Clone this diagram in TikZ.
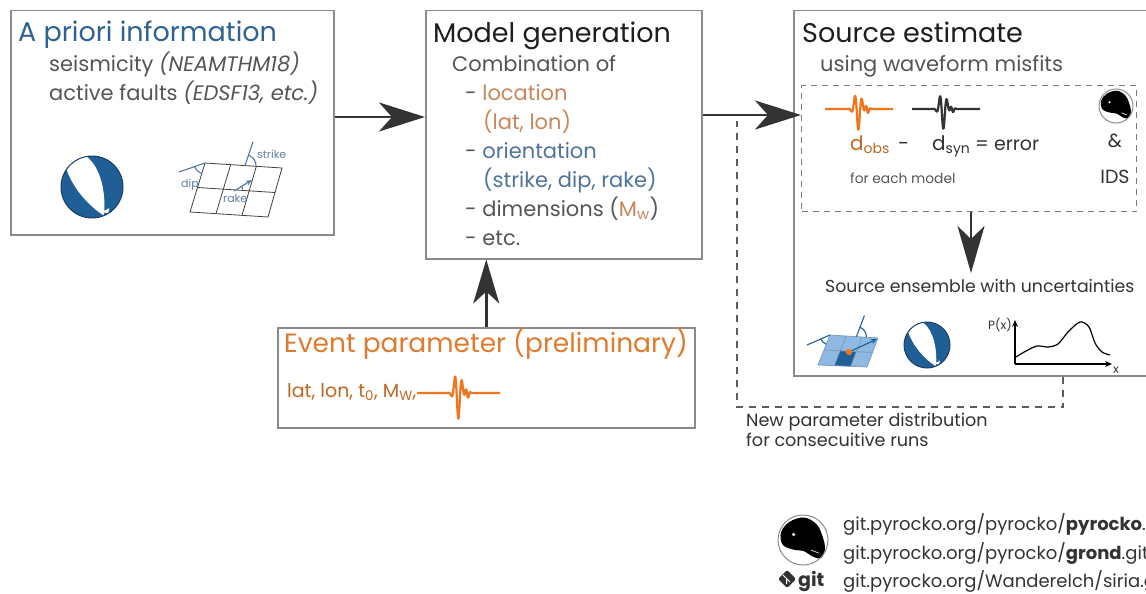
\documentclass[tikz,border=0pt]{standalone}
\usepackage{fontspec}
\setmainfont{Poppins}
\usetikzlibrary{arrows.meta,calc}

\definecolor{tblue}{HTML}{2F6290}
\definecolor{bodygray}{HTML}{555555}
\definecolor{headdark}{HTML}{1E1E1E}
\definecolor{boxgray}{HTML}{8A8A8A}
\definecolor{arrowdark}{HTML}{333333}
\definecolor{locbrown}{HTML}{C8865A}
\definecolor{oriblue}{HTML}{4F7499}
\definecolor{evorange}{HTML}{E07A2C}
\definecolor{wforange}{HTML}{F0761E}
\definecolor{bbblue}{HTML}{1F5F96}
\definecolor{bbedge}{HTML}{1A3F66}
\definecolor{lightfault}{HTML}{8DB9E2}
\definecolor{faultblue}{HTML}{5D7FA3}

\tikzset{
  panel/.style={draw=boxgray, line width=1.5pt, fill=white, inner sep=0pt, anchor=north west},
  dashbox/.style={draw=boxgray!90!black, line width=1.4pt, dash pattern=on 6pt off 5pt, inner sep=0pt, anchor=north west},
  fbline/.style={draw=arrowdark!80, line width=1.3pt, dash pattern=on 7pt off 6pt},
  bigarrow/.style={draw=arrowdark, line width=2.6pt, -{Stealth[length=46pt,width=29pt,inset=13pt]}},
  txt/.style={inner sep=0pt, anchor=base west, font=\fontsize{21}{24}\selectfont, text=bodygray},
  ttl/.style={inner sep=0pt, anchor=base west, font=\fontsize{27}{32}\selectfont},
  tiny/.style={inner sep=0pt, font=\fontsize{11}{13}\selectfont, text=faultblue},
  wfline/.style={line width=2.2pt, line join=round},
  gridline/.style={draw=black!75, line width=0.8pt},
  angline/.style={draw=tblue!85, line width=1.1pt},
  beachball/.pic={
    \fill[bbblue] (0,0) circle[radius=1];
    \fill[white] (-0.17,-0.98) .. controls (0.3,-0.6) and (0.45,0.2) .. (0.39,0.92)
       .. controls (0.0,0.7) and (-0.6,0.1) .. (-0.82,-0.57)
       arc[start angle=-145, end angle=-100, radius=1] -- cycle;
    \fill[white] (0.34,0.8) -- (0.56,0.68) -- (0.52,0.86) -- cycle;
    \draw[bbedge, line width=1pt] (0,0) circle[radius=1];
  },
  pigicon/.pic={
    \fill[white] (0,0) circle[radius=1];
    \fill[black] plot[smooth cycle, tension=0.6] coordinates {(-0.88,-0.3) (-0.55,-0.72) (0.05,-0.9) (0.55,-0.62) (0.78,-0.15) (0.88,0.35) (0.72,0.72) (0.38,0.66) (0.05,0.45) (-0.4,0.38) (-0.82,0.18)};
    \fill[white] (-0.38,-0.22) circle[radius=0.07];
    \draw[white, line width=0.6pt] (0.32,0.4) -- (0.62,0.52);
    \draw[black!45, line width=1pt] (0,0) circle[radius=1];
  }
}

\begin{document}
\begin{tikzpicture}[x=1pt,y=-1pt]
\useasboundingbox (0,0) rectangle (1146,594);
\clip (0,0) rectangle (1146,594);
\fill[white] (0,0) rectangle (1146,594);

% ---------- boxes ----------
\node[panel, minimum width=323pt, minimum height=224pt] (apriori) at (10,10) {};
\node[panel, minimum width=276pt, minimum height=248pt] (model) at (425,10) {};
\node[panel, minimum width=400pt, minimum height=365pt] (source) at (793,10) {};
\node[panel, minimum width=417pt, minimum height=100pt] (event) at (277,327) {};
\node[dashbox, minimum width=335pt, minimum height=126pt] (misfit) at (801,85) {};

% ---------- a priori information ----------
\node[ttl, text=tblue] (aptitle) at (18,42) {A priori information};
\node[txt] (apseis) at (49,72) {seismicity \textit{(NEAMTHM18)}};
\node[txt] (apfault) at (49,100) {active faults \textit{(EDSF13, etc.)}};
\pic[scale=31] at (92,187) {beachball={}};

% fault plane sketch
\coordinate (f1) at (205,163);
\coordinate (f2) at (282,168);
\coordinate (f3) at (268,217);
\coordinate (f4) at (190,212);
\draw[gridline] (f1) -- (f2) -- (f3) -- (f4) -- cycle;
\draw[gridline] ($(f1)!1/3!(f2)$) -- ($(f4)!1/3!(f3)$);
\draw[gridline] ($(f1)!2/3!(f2)$) -- ($(f4)!2/3!(f3)$);
\draw[gridline] ($(f1)!.5!(f4)$) -- ($(f2)!.5!(f3)$);
\coordinate (fs) at ($(f1)!.52!(f2)$);
\draw[angline] (fs) -- ++(8,-24);
\draw[angline] ($(fs)+(-71.6:11)$) arc[start angle=-71.6, end angle=3.7, radius=11];
\draw[angline] (f1) -- ++(-26,9);
\draw[angline] ($(f1)+(107:11)$) arc[start angle=107, end angle=161, radius=11];
\draw[angline, -{Stealth[length=6pt,width=5pt]}] (234,191) -- (252,180);
\draw[angline] (234,191) ++(-10:9) arc[start angle=-10, end angle=-35, radius=9];
\node[tiny, anchor=base west] (lstrike) at (257,158) {strike};
\node[tiny, anchor=base west] (ldip) at (181,187) {dip};
\node[tiny, anchor=base west] (lrake) at (223,202) {rake};

% ---------- model generation ----------
\node[ttl, text=headdark] (mgtitle) at (433,43) {Model generation};
\node[txt] (mg1) at (452,72) {Combination of};
\node[txt] (mg2) at (465,100) {- \textcolor{locbrown}{location}};
\node[txt, text=locbrown] (mg3) at (483,129) {(lat, lon)};
\node[txt] (mg4) at (465,158) {- \textcolor{oriblue}{orientation}};
\node[txt, text=oriblue] (mg5) at (483,187) {(strike, dip, rake)};
\node[txt] (mg6) at (465,216) {- dimensions (\textcolor{locbrown}{M\textsubscript{w}})};
\node[txt] (mg7) at (465,245) {- etc.};

% ---------- source estimate ----------
\node[ttl, text=headdark] (setitle) at (802,43) {Source estimate};
\node[txt] (sesub) at (820,72) {using waveform misfits};
\draw[wfline, wforange] plot[domain=-33:35, samples=160] ({858+\x}, {109 + 21*exp(-(\x/4.5)^2)*sin(\x*50+70) + 5*exp(-((\x-9)/2.5)^2)*sin((\x-9)*70)});
\draw[wfline, arrowdark] plot[domain=-31:37, samples=160] ({943+\x}, {109 + 20*exp(-(\x/4.5)^2)*sin(\x*50+70) + 4*exp(-((\x-9)/2.5)^2)*sin((\x-9)*70)});
\node[txt, text=evorange!85!black, font=\fontsize{20}{23}\selectfont] (dobs) at (850,150) {d\textsubscript{obs}};
\node[txt, text=arrowdark, font=\fontsize{20}{23}\selectfont] (dminus) at (898,150) {-};
\node[txt, text=arrowdark, font=\fontsize{20}{23}\selectfont] (dsyn) at (932,150) {d\textsubscript{syn}};
\node[txt, text=arrowdark, font=\fontsize{19}{23}\selectfont] (derr) at (975,150) {= error};
\node[txt, font=\fontsize{13.8}{16}\selectfont] (each) at (850,183) {for each model};
\pic[scale=17] at (1116,106) {pigicon={}};
\node[txt, anchor=base, text=arrowdark, font=\fontsize{19}{23}\selectfont] (amp) at (1115,147) {\&};
\node[txt, anchor=base, text=arrowdark, font=\fontsize{19}{23}\selectfont] (ids) at (1115,183) {IDS};
\node[txt, text=arrowdark, font=\fontsize{17.3}{20}\selectfont] (ens) at (825,292) {Source ensemble with uncertainties};
\draw[bigarrow, -{Stealth[length=47pt,width=27pt,inset=13pt]}] (misfit.south -| 971,0) -- (971,273);

% ensemble: fault plane with slip patch
\coordinate (g1) at (830,335);
\coordinate (g2) at (878,338);
\coordinate (g3) at (867,367);
\coordinate (g4) at (818,365);
\coordinate (gml) at ($(g1)!.5!(g4)$);
\coordinate (gmr) at ($(g2)!.5!(g3)$);
\fill[lightfault] (g1) -- (g2) -- (g3) -- (g4) -- cycle;
\fill[bbblue] ($(gml)!1/3!(gmr)$) -- ($(gml)!2/3!(gmr)$) -- ($(g4)!2/3!(g3)$) -- ($(g4)!1/3!(g3)$) -- cycle;
\draw[draw=faultblue!80, line width=0.7pt] (g1) -- (g2) -- (g3) -- (g4) -- cycle;
\draw[draw=faultblue!80, line width=0.7pt] ($(g1)!1/3!(g2)$) -- ($(g4)!1/3!(g3)$);
\draw[draw=faultblue!80, line width=0.7pt] ($(g1)!2/3!(g2)$) -- ($(g4)!2/3!(g3)$);
\draw[draw=faultblue!80, line width=0.7pt] (gml) -- (gmr);
\coordinate (gs) at ($(g1)!.55!(g2)$);
\draw[angline, bbblue] (gs) -- ++(8,-21);
\draw[angline, bbblue] ($(gs)+(-69:10)$) arc[start angle=-69, end angle=4, radius=10];
\draw[angline, bbblue] (g1) -- ++(-23,10);
\draw[angline, bbblue] ($(g1)+(112:10)$) arc[start angle=112, end angle=157, radius=10];
\draw[angline, bbblue, -{Stealth[length=6pt,width=5pt]}] (849,352) -- (877,339);
\fill[wforange] (849,352) circle[radius=3.2];
\pic[scale=23] at (927,345) {beachball={}};

% ensemble: probability density
\coordinate (po) at (1015,364);
\draw[line width=1.1pt, -{Stealth[length=7pt,width=6pt]}] (po) -- (1015,320);
\draw[line width=1.1pt, -{Stealth[length=7pt,width=6pt]}] (po) -- (1112,364);
\node[tiny, text=arrowdark, anchor=base east, font=\fontsize{12}{14}\selectfont] (lpx) at (1012,329) {P(x)};
\node[tiny, text=arrowdark, anchor=base west, font=\fontsize{12}{14}\selectfont] (lx) at (1113,373) {x};
\draw[line width=1.2pt] plot[smooth] coordinates {(1016,357) (1026,351) (1037,346) (1048,347) (1058,344) (1068,332) (1080,322) (1089,327) (1095,343) (1102,352) (1110,355)};

% feedback loop
\draw[fbline] (source.south -| 1063,0) -- (1063,407) -- (737,407) -- (737,121);
\node[txt, text=arrowdark, font=\fontsize{17.6}{20}\selectfont] (fb1) at (746,426) {New parameter distribution};
\node[txt, text=arrowdark, font=\fontsize{17.6}{20}\selectfont] (fb2) at (746,446) {for consecuitive runs};

% ---------- event parameter ----------
\node[ttl, text=evorange, font=\fontsize{26.5}{30}\selectfont] (evtitle) at (284,352) {Event parameter (preliminary)};
\node[txt, text=evorange!85!black, font=\fontsize{19}{22}\selectfont] (evpar) at (287,397) {lat, lon, t\textsubscript{0}, M\textsubscript{W},};
\draw[wfline, wforange] plot[domain=-41:42, samples=180] ({458+\x}, {393 + 26*exp(-(\x/4.5)^2)*sin(\x*50+70) + 6*exp(-((\x-9)/2.5)^2)*sin((\x-9)*70)});

% ---------- main arrows ----------
\draw[bigarrow] (apriori.east |- 0,117) -- (model.west |- 0,117);
\draw[bigarrow] (model.east |- 0,115) -- (misfit.west |- 0,115);
\draw[bigarrow, -{Stealth[length=44pt,width=26pt,inset=12pt]}] (event.north) -- (event.north |- model.south);

% ---------- repositories ----------
\pic[scale=25] at (803,540) {pigicon={}};
\fill[arrowdark, rounded corners=1.5pt] (787,570) -- (796,579) -- (787,588) -- (778,579) -- cycle;
\draw[white, line width=1pt] (783,575) -- (790,582) (786.5,578.5) -- (786.5,584);
\node[txt, text=arrowdark, font=\fontsize{19}{20}\selectfont\bfseries] (gitlogo) at (798,586) {git};
\node[txt, text=arrowdark, font=\fontsize{18}{21}\selectfont] (url1) at (843,530) {git.pyrocko.org/pyrocko/\textbf{pyrocko}.git};
\node[txt, text=arrowdark, font=\fontsize{18}{21}\selectfont] (url2) at (843,559) {git.pyrocko.org/pyrocko/\textbf{grond}.git};
\node[txt, text=arrowdark, font=\fontsize{18}{21}\selectfont] (url3) at (843,587) {git.pyrocko.org/Wanderelch/siria.git};
\end{tikzpicture}
\end{document}
